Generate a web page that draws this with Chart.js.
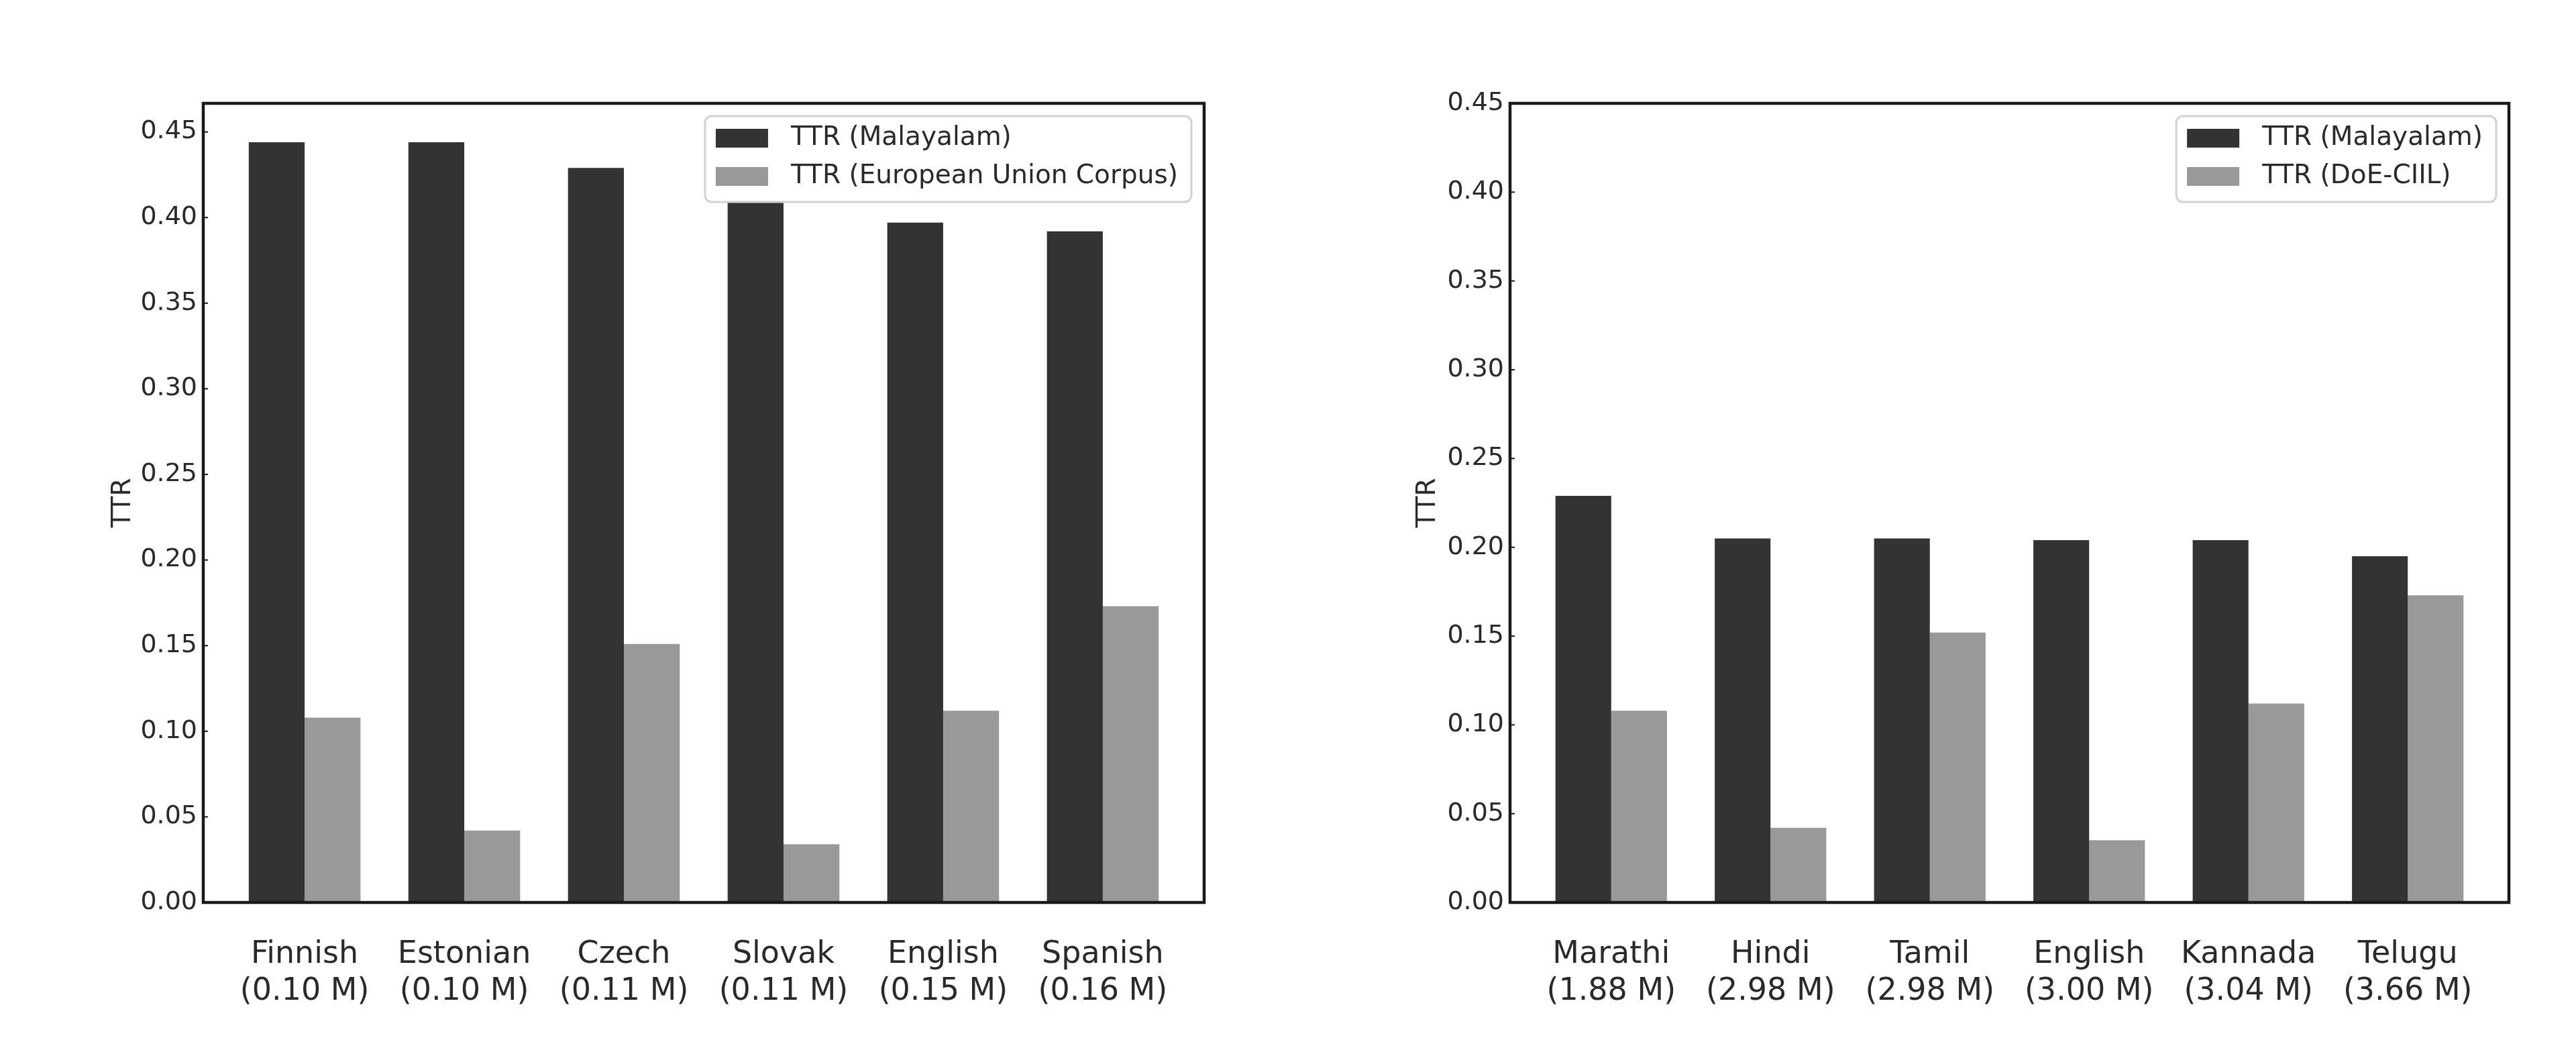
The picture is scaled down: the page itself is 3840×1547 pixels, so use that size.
<!DOCTYPE html>
<html>
<head>
<meta charset="utf-8">
<title>TTR comparison</title>
<script src="https://cdn.jsdelivr.net/npm/chart.js@4.4.1/dist/chart.umd.min.js"></script>
<style>
  body { margin: 0; background: #fff; }
  canvas { position: absolute; top: 0; }
</style>
</head>
<body>
<canvas id="left" width="1920" height="1547" style="left:0"></canvas>
<canvas id="right" width="1920" height="1547" style="left:1920px"></canvas>
<script>
// values
var euLanguages = ['Finnish', 'Estonian', 'Czech', 'Slovak', 'English', 'Spanish']
var euSizes = ['0.10 M', '0.10 M', '0.11 M', '0.11 M', '0.15 M', '0.16 M']
var euMalayalam = [0.444, 0.444, 0.429, 0.42, 0.397, 0.392]
var euCorpus = [0.108, 0.042, 0.151, 0.034, 0.112, 0.173]

var inLanguages = ['Marathi', 'Hindi', 'Tamil', 'English', 'Kannada', 'Telugu']
var inSizes = ['1.88 M', '2.98 M', '2.98 M', '3.00 M', '3.04 M', '3.66 M']
var inMalayalam = [0.229, 0.205, 0.205, 0.204, 0.204, 0.195]
var inDoeCiil = [0.108, 0.042, 0.152, 0.035, 0.112, 0.173]

var yTicks = [0.00, 0.05, 0.10, 0.15, 0.20, 0.25, 0.30, 0.35, 0.40, 0.45]

var DARK = '#333333'
var GREY = '#999999'
var TEXT = '#2a2a2a'
var FONT = '"DejaVu Sans", sans-serif'

// matplotlib-like box frame, small inward ticks and legend drawn over the bars
var framePlugin = {
  id: 'frame',
  afterDatasetsDraw: function (chart) {
    var ctx = chart.ctx
    var a = chart.chartArea
    var y = chart.scales.y
    ctx.save()

    ctx.strokeStyle = '#1a1a1a'
    ctx.lineWidth = 2
    y.ticks.forEach(function (t) {
      var py = y.getPixelForValue(t.value)
      ctx.beginPath()
      ctx.moveTo(a.left, py)
      ctx.lineTo(a.left + 7, py)
      ctx.stroke()
    })
    ctx.lineWidth = 4.5
    ctx.strokeRect(a.left, a.top, a.right - a.left, a.bottom - a.top)

    // legend
    ctx.font = '39px ' + FONT
    var sets = chart.data.datasets
    var textW = 0
    sets.forEach(function (d) {
      textW = Math.max(textW, ctx.measureText(d.label).width)
    })
    var boxW = 148 + textW
    var boxH = 128
    var boxL = a.right - 19 - boxW
    var boxT = a.top + 19
    ctx.fillStyle = '#ffffff'
    ctx.strokeStyle = '#d2d2d2'
    ctx.lineWidth = 3
    ctx.beginPath()
    ctx.roundRect(boxL, boxT, boxW, boxH, 10)
    ctx.fill()
    ctx.stroke()
    sets.forEach(function (d, i) {
      var cy = boxT + 33 + i * 57
      ctx.fillStyle = d.backgroundColor
      ctx.fillRect(boxL + 16, cy - 14, 78, 28)
      ctx.fillStyle = TEXT
      ctx.textBaseline = 'middle'
      ctx.textAlign = 'left'
      ctx.fillText(d.label, boxL + 128, cy)
    })
    ctx.restore()
  }
}

function makeChart(id, languages, sizes, malayalam, other, otherLabel, yMax, yAxisWidth, rightPad, titlePad) {
  var points = function (vals) {
    return vals.map(function (v, i) { return { x: i + 0.35, y: v } })
  }
  return new Chart(document.getElementById(id), {
    type: 'bar',
    data: {
      datasets: [
        { label: 'TTR (Malayalam)', data: points(malayalam), backgroundColor: DARK },
        { label: otherLabel, data: points(other), backgroundColor: GREY }
      ]
    },
    options: {
      responsive: false,
      animation: false,
      devicePixelRatio: 1,
      categoryPercentage: 0.7,
      barPercentage: 1.0,
      layout: { padding: { top: 154, right: rightPad, bottom: 0, left: 0 } },
      plugins: { legend: { display: false }, tooltip: { enabled: false } },
      scales: {
        x: {
          type: 'linear',
          offset: false,
          min: -0.285,
          max: 5.985,
          grid: { display: false, drawTicks: false },
          border: { display: false },
          afterBuildTicks: function (scale) {
            scale.ticks = languages.map(function (l, i) { return { value: i + 0.35 } })
          },
          afterFit: function (scale) { scale.height = 202 },
          ticks: {
            autoSkip: false,
            maxRotation: 0,
            padding: 50,
            color: TEXT,
            font: { family: FONT, size: 46, lineHeight: 1.2 },
            callback: function (value, index) {
              return [languages[index], '(' + sizes[index] + ')']
            }
          }
        },
        y: {
          min: 0,
          max: yMax,
          grid: { display: false, drawTicks: false },
          border: { display: false },
          afterBuildTicks: function (scale) {
            scale.ticks = yTicks.map(function (v) { return { value: v } })
          },
          afterFit: function (scale) { scale.width = yAxisWidth },
          ticks: {
            padding: 9,
            color: TEXT,
            font: { family: FONT, size: 38 },
            callback: function (value) { return value.toFixed(2) }
          },
          title: {
            display: true,
            text: 'TTR',
            color: TEXT,
            font: { family: FONT, size: 39, lineHeight: 1.2 },
            padding: { top: titlePad, bottom: 0 }
          }
        }
      }
    },
    plugins: [framePlugin]
  })
}

makeChart('left', euLanguages, euSizes, euMalayalam, euCorpus,
  'TTR (European Union Corpus)', 0.4667, 303, 125, 160)
makeChart('right', inLanguages, inSizes, inMalayalam, inDoeCiil,
  'TTR (DoE-CIIL)', 0.45, 331, 100, 185)
</script>
</body>
</html>
